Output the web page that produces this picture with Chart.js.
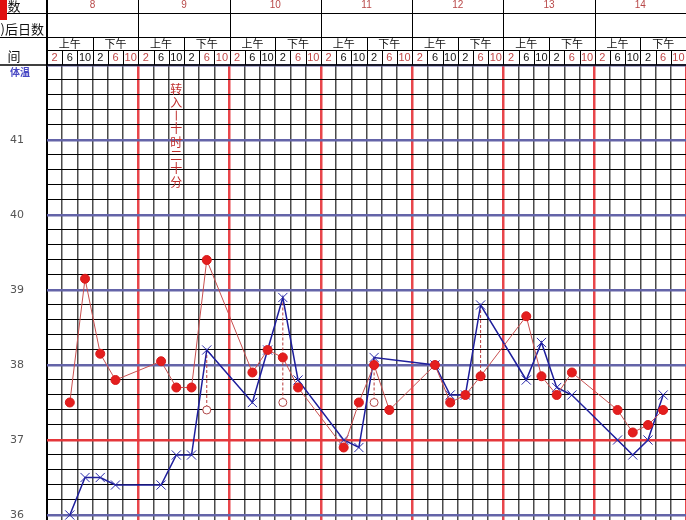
<!DOCTYPE html>
<html>
<head>
<meta charset="utf-8">
<script src="https://cdn.jsdelivr.net/npm/chart.js@4.4.0/dist/chart.umd.min.js"></script>
<style>
  html, body { margin: 0; padding: 0; background: #fff; overflow: hidden; }
  canvas { display: block; }
</style>
</head>
<body>
<canvas id="chart" width="686" height="520"></canvas>
<script>
const days = ['8', '9', '10', '11', '12', '13', '14'];
const halfDay = ['上午', '下午'];
const hours = ['2', '6', '10', '2', '6', '10'];
const tempLabels = [41, 40, 39, 38, 37, 36];

// one value per 4-hour slot (6 per day), null = nothing recorded
const pulseTemps = [
  null, 37.5, 39.15, 38.15, 37.8, null,   // 8
  null, 38.05, 37.7, 37.7, 39.4, null,    // 9
  null, 37.9, 38.2, 38.1, 37.7, null,     // 10
  null, 36.9, 37.5, 38.0, 37.4, null,     // 11
  null, 38.0, 37.5, 37.6, 37.85, null,    // 12
  null, 38.65, 37.85, 37.6, 37.9, null,   // 13
  null, 37.4, 37.1, 37.2, 37.4, null      // 14
];
const bodyTemps = [
  null, 36.0, 36.5, 36.5, 36.4, null,
  null, 36.4, 36.8, 36.8, 38.2, null,
  null, 37.5, 38.2, 38.9, 37.8, null,
  null, 37.0, 36.9, 38.1, null, null,
  null, 38.0, 37.6, 37.6, 38.8, null,
  null, 37.8, 38.3, 37.7, 37.6, null,
  null, 37.0, 36.8, 37.0, 37.6, null
];
// temperature after physical cooling
const cooledTemps = [
  null, null, null, null, null, null,
  null, null, null, null, 37.4, null,
  null, null, null, 37.5, null, null,
  null, null, null, 37.5, null, null,
  null, null, null, null, 37.85, null,
  null, null, null, null, null, null,
  null, null, null, null, null, null
];
const noteText = '转入—十时二十分';
const noteSlot = 8;

const nSlots = days.length * hours.length;

function toPoints(arr) {
  return arr.map((v, i) => (v == null ? null : { x: i + 0.5, y: v })).filter(Boolean);
}

const datasets = [
  {
    label: 'pulse',
    data: toPoints(pulseTemps),
    borderColor: '#c85050',
    borderWidth: 1,
    pointRadius: 4.5,
    pointBackgroundColor: '#e41e1e',
    pointBorderColor: '#d81a1a',
    pointBorderWidth: 1,
    tension: 0
  },
  {
    label: 'body',
    data: toPoints(bodyTemps),
    borderColor: '#1e1e9c',
    borderWidth: 1.5,
    pointStyle: 'crossRot',
    pointRadius: 6.5,
    pointBorderColor: '#2a2aaa',
    pointBorderWidth: 1,
    tension: 0
  },
  {
    label: 'cooled',
    data: toPoints(cooledTemps),
    showLine: false,
    pointRadius: 4,
    pointBackgroundColor: '#fff',
    pointBorderColor: '#b04848',
    pointBorderWidth: 1
  }
];

cooledTemps.forEach((v, i) => {
  if (v == null || bodyTemps[i] == null) return;
  datasets.push({
    label: 'drop' + i,
    data: [{ x: i + 0.5, y: bodyTemps[i] }, { x: i + 0.5, y: v }],
    borderColor: '#b83a3a',
    borderWidth: 1,
    borderDash: [3, 2],
    pointRadius: 0
  });
});

const sheetPlugin = {
  id: 'sheet',
  afterDraw(chart) {
    const { ctx, scales: { x, y } } = chart;
    const col = (i) => x.getPixelForValue(i);
    const W = chart.width;
    ctx.save();

    function line(x1, y1, x2, y2, color, w) {
      ctx.strokeStyle = color || '#000';
      ctx.lineWidth = w || 1;
      ctx.beginPath();
      ctx.moveTo(x1, y1);
      ctx.lineTo(x2, y2);
      ctx.stroke();
    }

    // header rules
    line(0, 13.5, W, 13.5);
    line(0, 37.5, W, 37.5);
    line(col(0), 50.5, W, 50.5);
    line(0, 65, W, 65, '#000', 1.5);
    line(col(0), 0, col(0), 65, '#000', 2);
    for (let i = 1; i < nSlots; i++) {
      const px = Math.round(col(i)) + 0.5;
      if (i % 6 === 0) line(px, 0, px, 65);
      else if (i % 3 === 0) line(px, 37.5, px, 65);
      else line(px, 50.5, px, 65);
    }

    ctx.textBaseline = 'middle';
    ctx.textAlign = 'center';

    // day numbers
    ctx.font = '10px "Liberation Sans", sans-serif';
    ctx.fillStyle = '#b84848';
    days.forEach((d, k) => ctx.fillText(d, col(k * 6 + 3), 5));

    // morning / afternoon
    ctx.font = '11px "Noto Sans CJK SC", sans-serif';
    ctx.fillStyle = '#111';
    days.forEach((d, k) => {
      ctx.fillText(halfDay[0], col(k * 6 + 1.5), 44);
      ctx.fillText(halfDay[1], col(k * 6 + 4.5), 44);
    });

    // hours
    ctx.font = '11px "Liberation Sans", sans-serif';
    for (let i = 0; i < nSlots; i++) {
      const h = i % 6;
      ctx.fillStyle = (h === 0 || h === 4 || h === 5) ? '#c04848' : '#111';
      ctx.fillText(hours[h], col(i + 0.5), 58);
    }

    // left column captions
    ctx.fillStyle = '#111';
    ctx.font = '13px "Noto Sans CJK SC", sans-serif';
    ctx.fillText('数', 14, 6);
    ctx.textAlign = 'right';
    ctx.fillText(')后日数', 44, 29);
    ctx.textAlign = 'center';
    ctx.fillText('间', 14, 56);
    ctx.fillStyle = '#e01010';
    ctx.fillRect(0, 0, 7, 20);

    ctx.fillStyle = '#4848c4';
    ctx.font = 'bold 10px "Noto Sans CJK SC", sans-serif';
    ctx.fillText('体温', 20, 72);

    // temperature scale
    ctx.fillStyle = '#555';
    ctx.font = '11px "DejaVu Sans", sans-serif';
    tempLabels.forEach((t) => ctx.fillText(String(t), 17, y.getPixelForValue(t)));

    // vertical note
    ctx.fillStyle = '#c0302f';
    ctx.font = '12px "Noto Sans CJK SC", sans-serif';
    const nx = col(noteSlot + 0.5);
    Array.from(noteText).forEach((ch, i) => {
      const ny = 89 + i * 13.3;
      if (ch === '—') {
        line(nx, ny - 5, nx, ny + 5, '#c0302f', 1);
      } else {
        ctx.fillText(ch, nx, ny);
      }
    });

    ctx.restore();
  }
};

const xTicks = [];
for (let i = 0; i <= nSlots; i++) xTicks.push({ value: i });
const yTicks = [];
for (let v = 360; v <= 420; v += 2) yTicks.push({ value: v / 10 });

new Chart(document.getElementById('chart'), {
  type: 'line',
  data: { datasets },
  options: {
    responsive: false,
    animation: false,
    events: [],
    layout: { autoPadding: false, padding: { left: 47, top: 65, right: 0, bottom: 0 } },
    plugins: { legend: { display: false }, tooltip: { enabled: false } },
    scales: {
      x: {
        type: 'linear',
        min: 0,
        max: nSlots,
        afterBuildTicks: (axis) => { axis.ticks = xTicks.slice(); },
        ticks: { display: false },
        border: { display: false },
        grid: {
          drawTicks: false,
          color: (c) => {
            const v = c.tick.value;
            if (v === 0) return '#000';
            if (v % 6 === 0) return '#e8454a';
            return '#4a4a4a';
          },
          lineWidth: (c) => {
            const v = c.tick.value;
            if (v === 0) return 2;
            if (v % 6 === 0) return 2.5;
            return 1.5;
          }
        }
      },
      y: {
        type: 'linear',
        min: 35.9333,
        max: 42,
        afterBuildTicks: (axis) => { axis.ticks = yTicks.slice(); },
        ticks: { display: false },
        border: { display: false },
        grid: {
          drawTicks: false,
          color: (c) => {
            const v = Math.round(c.tick.value * 10) / 10;
            if (v === 37) return '#e4373b';
            if (Number.isInteger(v)) return '#6464a8';
            return '#000';
          },
          lineWidth: (c) => {
            const v = Math.round(c.tick.value * 10) / 10;
            if (Number.isInteger(v)) return 2.5;
            return 1;
          }
        }
      }
    }
  },
  plugins: [sheetPlugin]
});
</script>
</body>
</html>
